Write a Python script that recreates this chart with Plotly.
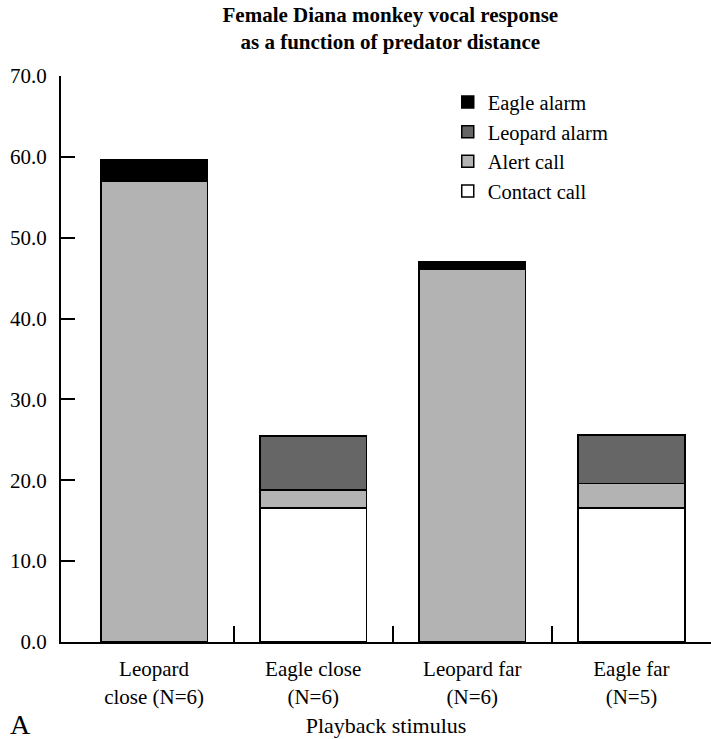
import plotly.graph_objects as go

# Playback conditions and mean call counts per call type
stimuli = ["Leopard<br>close (N=6)", "Eagle close<br>(N=6)", "Leopard far<br>(N=6)", "Eagle far<br>(N=5)"]
contact_call = [0.0, 16.6, 0.0, 16.6]
alert_call = [57.0, 2.2, 46.1, 3.0]
leopard_alarm = [0.0, 6.7, 0.0, 6.0]
eagle_alarm = [2.7, 0.0, 0.95, 0.0]

y_ticks = [0, 10, 20, 30, 40, 50, 60, 70]

positions = list(range(len(stimuli)))
boundaries = [p + 0.5 for p in positions[:-1]]

series = [
    ("Contact call", contact_call, "#ffffff"),
    ("Alert call", alert_call, "#b3b3b3"),
    ("Leopard alarm", leopard_alarm, "#666666"),
    ("Eagle alarm", eagle_alarm, "#000000"),
]

SERIF = "Liberation Serif"

fig = go.Figure()
for name, vals, color in series:
    fig.add_trace(go.Bar(
        x=positions, y=vals, name=name, width=0.67,
        marker=dict(color=color, line=dict(color="#000000", width=1.5)),
    ))

fig.update_layout(
    width=711, height=739,
    barmode="stack",
    plot_bgcolor="white", paper_bgcolor="white",
    margin=dict(l=61, r=0, t=76, b=97),
    font=dict(family=SERIF, size=22, color="#000000"),
    title=dict(
        text="<b>Female Diana monkey vocal response<br>as a function of predator distance</b>",
        x=0.549, xanchor="center", y=0.97, yanchor="top",
        font=dict(family=SERIF, size=21),
    ),
    legend=dict(
        x=0.595, y=0.989, xanchor="left", yanchor="top",
        traceorder="reversed", bgcolor="rgba(0,0,0,0)",
        font=dict(family=SERIF, size=20.5),
    ),
    showlegend=True,
)

fig.update_xaxes(
    range=[-0.585, 3.5],
    tickmode="array", tickvals=positions, ticktext=stimuli,
    ticks="", showgrid=False, zeroline=False,
    showline=True, linecolor="#000000", linewidth=2,
    minor=dict(tickmode="array", tickvals=boundaries, ticks="inside",
               ticklen=16, tickwidth=1.5, tickcolor="#000000", showgrid=False),
    tickfont=dict(family=SERIF, size=21),
    ticklabelstandoff=7,
    title=dict(text="Playback stimulus", font=dict(family=SERIF, size=22), standoff=10),
)

fig.update_yaxes(
    range=[0, 70],
    tickmode="array", tickvals=y_ticks, tickformat=".1f",
    ticks="inside", ticklen=14, tickwidth=2, tickcolor="#000000",
    showgrid=False, zeroline=False,
    showline=True, linecolor="#000000", linewidth=2,
    tickfont=dict(family=SERIF, size=21),
    ticklabelstandoff=8,
)

fig.add_annotation(
    text="A", xref="paper", yref="paper", x=-0.0815, y=-0.1466,
    xanchor="left", yanchor="middle", showarrow=False,
    font=dict(family=SERIF, size=28),
)

fig.write_html("out.html")
